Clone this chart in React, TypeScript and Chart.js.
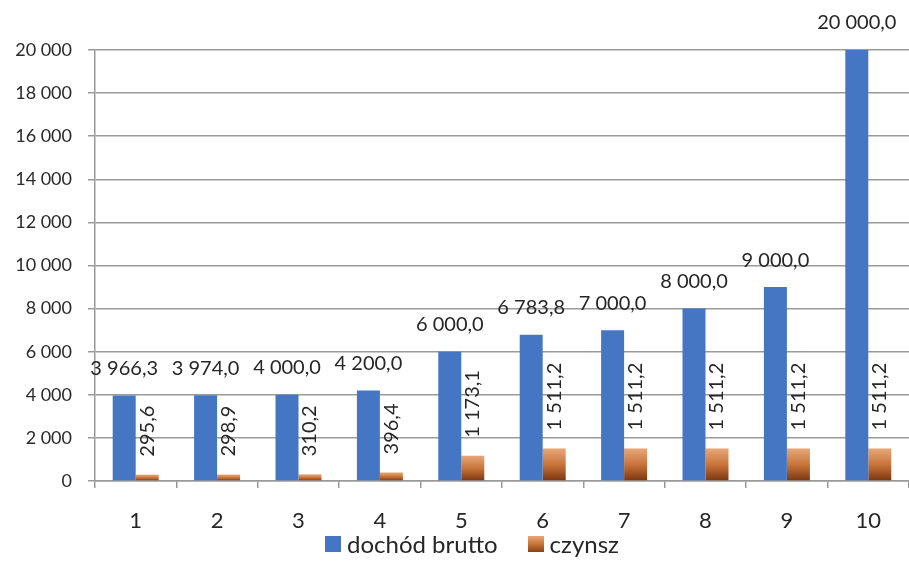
import React, { useEffect, useRef } from "react";
import { Chart, registerables } from "chart.js";

Chart.register(...registerables);

const categories = ["1", "2", "3", "4", "5", "6", "7", "8", "9", "10"];
const grossIncome = [3966.3, 3974.0, 4000.0, 4200.0, 6000.0, 6783.8, 7000.0, 8000.0, 9000.0, 20000.0];
const rent = [295.6, 298.9, 310.2, 396.4, 1173.1, 1511.2, 1511.2, 1511.2, 1511.2, 1511.2];
const seriesNames = ["dochód brutto", "czynsz"];
const yMin = 0;
const yMax = 20000;
const yStep = 2000;

const FONT = "Lato, 'Liberation Sans', sans-serif";
const BLUE = "#4576c4";
const ORANGE_LEGEND = "linear-gradient(180deg, #e8a878 0%, #c8743a 50%, #8a3f14 100%)";

function fmt(v: number, dec: number, sep: string): string {
  const s = v.toFixed(dec);
  const [i, f] = s.split(".");
  const grouped = i.replace(/\B(?=(\d{3})+(?!\d))/g, sep);
  return f !== undefined ? grouped + "," + f : grouped;
}

const labelPlugin = {
  id: "barLabels",
  afterDatasetsDraw(chart: any) {
    const ctx = chart.ctx;
    ctx.save();
    ctx.fillStyle = "#262626";
    ctx.font = `20px ${FONT}`;
    const m0 = chart.getDatasetMeta(0);
    m0.data.forEach((el: any, i: number) => {
      ctx.textAlign = "center";
      ctx.textBaseline = "middle";
      ctx.fillText(fmt(grossIncome[i], 1, " "), el.x, el.y - 27);
    });
    const m1 = chart.getDatasetMeta(1);
    m1.data.forEach((el: any, i: number) => {
      ctx.save();
      ctx.translate(el.x, el.y - 18);
      ctx.rotate(-Math.PI / 2);
      ctx.textAlign = "left";
      ctx.textBaseline = "middle";
      ctx.fillText(fmt(rent[i], 1, " "), 0, 0);
      ctx.restore();
    });
    ctx.restore();
  },
};

export default function App() {
  const ref = useRef<HTMLCanvasElement | null>(null);
  useEffect(() => {
    if (!ref.current) return;
    const chart = new Chart(ref.current, {
      type: "bar",
      data: {
        labels: categories,
        datasets: [
          {
            label: seriesNames[0],
            data: grossIncome,
            backgroundColor: BLUE,
            borderWidth: 0,
          },
          {
            label: seriesNames[1],
            data: rent,
            backgroundColor: (c: any) => {
              const ch = c.chart;
              const area = ch.chartArea;
              if (!area || c.raw === undefined) return "#c46a30";
              const ys = ch.scales.y;
              const top = ys.getPixelForValue(c.raw);
              const bottom = ys.getPixelForValue(0);
              const g = ch.ctx.createLinearGradient(0, top, 0, bottom);
              g.addColorStop(0, "#e8a878");
              g.addColorStop(0.5, "#c8743a");
              g.addColorStop(1, "#7a3510");
              return g;
            },
            borderWidth: 0,
          },
        ],
      },
      options: {
        responsive: false,
        animation: false,
        maintainAspectRatio: false,
        layout: { padding: { top: 50, left: 0, right: 0, bottom: 26 } },
        datasets: {
          bar: { categoryPercentage: 0.565, barPercentage: 1.0 },
        },
        plugins: {
          tooltip: { enabled: false },
          legend: { display: false },
        },
        scales: {
          x: {
            grid: {
              drawOnChartArea: false,
              drawTicks: true,
              tickLength: 7,
              color: "#999999",
              lineWidth: 1.5,
            },
            border: { color: "#999999", width: 1.5 },
            ticks: {
              font: { family: FONT, size: 22 },
              color: "#262626",
              padding: 20,
            },
            afterFit: (s: any) => {
              s.height = 56;
            },
          },
          y: {
            min: yMin,
            max: yMax,
            grid: {
              color: "#9a9a9a",
              lineWidth: 1.5,
              drawTicks: true,
              tickLength: 7,
            },
            border: { color: "#999999", width: 1.5 },
            ticks: {
              stepSize: yStep,
              font: { family: FONT, size: 18 },
              color: "#2a2a2a",
              padding: 16,
              callback: (v: any) => fmt(Number(v), 0, " "),
            },
            afterFit: (s: any) => {
              s.width = 95;
            },
          },
        },
      },
      plugins: [labelPlugin],
    } as any);
    return () => chart.destroy();
  }, []);

  const legendItem = (label: string, swatch: string, bg: boolean) => (
    <div key={label} style={{ display: "flex", alignItems: "center" }}>
      <span
        style={{
          display: "inline-block",
          width: 16,
          height: 16,
          marginRight: 6,
          background: bg ? swatch : undefined,
          backgroundImage: bg ? undefined : swatch,
        }}
      />
      <span>{label}</span>
    </div>
  );

  return (
    <div style={{ position: "fixed", left: 0, top: 0, width: 909, height: 563, background: "#fff" }}>
      <canvas ref={ref} width={909} height={563} style={{ position: "absolute", left: 0, top: 0, width: 909, height: 563 }} />
      <div
        style={{
          position: "absolute",
          left: 325,
          top: 529,
          height: 30,
          display: "flex",
          alignItems: "center",
          gap: 30,
          fontFamily: FONT,
          fontSize: 24,
          color: "#262626",
          lineHeight: "30px",
          whiteSpace: "nowrap",
        }}
      >
        {legendItem(seriesNames[0], BLUE, true)}
        {legendItem(seriesNames[1], ORANGE_LEGEND, false)}
      </div>
    </div>
  );
}
